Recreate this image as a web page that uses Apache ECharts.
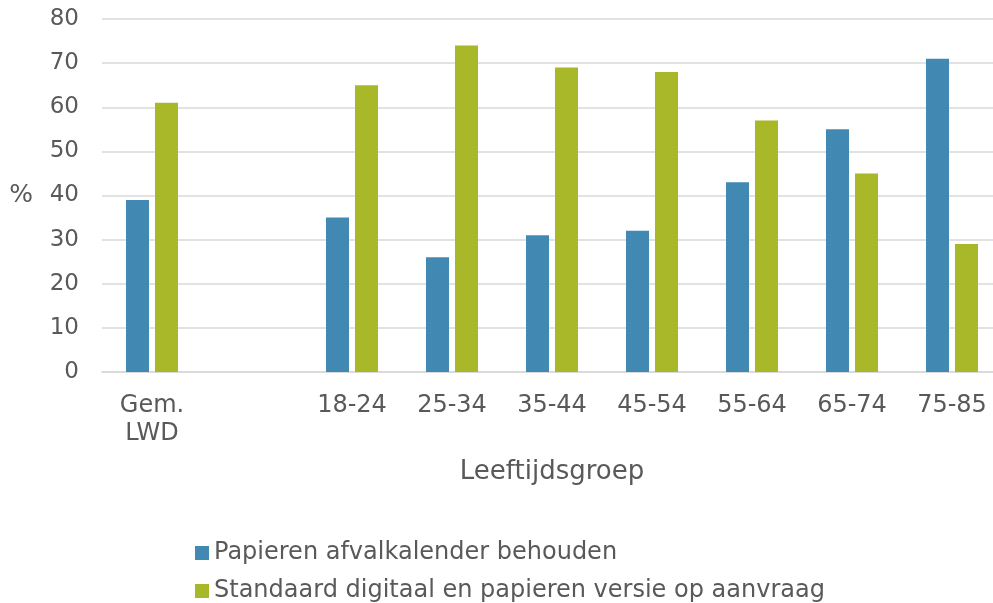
<!DOCTYPE html>
<html>
<head>
<meta charset="utf-8">
<script src="https://cdn.jsdelivr.net/npm/echarts@6/dist/echarts.min.js"></script>
<style>html,body{margin:0;padding:0;background:#fff;}#c{width:993px;height:603px;}</style>
</head>
<body>
<div id="c"></div>
<script>
var categories = ['Gem.\nLWD', '', '18-24', '25-34', '35-44', '45-54', '55-64', '65-74', '75-85'];
var seriesNames = ['Papieren afvalkalender behouden', 'Standaard digitaal en papieren versie op aanvraag'];
var papier = [39, null, 35, 26, 31, 32, 43, 55, 71];
var digitaal = [61, null, 65, 74, 69, 68, 57, 45, 29];
var yTicks = [0, 10, 20, 30, 40, 50, 60, 70, 80];
var xAxisTitle = 'Leeftijdsgroep';
var yAxisTitle = '%';

var textColor = '#595959';
var font = 'DejaVu Sans';
var legendBase = {
  orient: 'horizontal', left: 190,
  itemWidth: 14, itemHeight: 14, icon: 'rect',
  textStyle: {fontFamily: font, fontSize: 24, color: textColor}
};
var chart = echarts.init(document.getElementById('c'), null, {renderer: 'canvas'});
chart.setOption({
  animation: false,
  color: ['#4189B3', '#A8B828'],
  textStyle: {fontFamily: font, color: textColor},
  grid: {left: 102, top: 19, width: 900, height: 353, containLabel: false, outerBoundsMode: 'none'},
  legend: [
    Object.assign({}, legendBase, {top: 536, data: [seriesNames[0]]}),
    Object.assign({}, legendBase, {top: 574, data: [seriesNames[1]]})
  ],
  xAxis: {
    type: 'category', data: categories,
    name: xAxisTitle, nameLocation: 'middle', nameGap: 87,
    nameTextStyle: {fontFamily: font, fontSize: 26, color: textColor},
    axisLine: {show: true, lineStyle: {color: '#d9d9d9', width: 1.5}},
    axisTick: {show: false},
    axisLabel: {fontFamily: font, fontSize: 24, color: textColor, margin: 20, lineHeight: 28, interval: 0}
  },
  yAxis: {
    type: 'value', min: yTicks[0], max: yTicks[yTicks.length - 1], interval: 10,
    name: yAxisTitle, nameLocation: 'middle', nameGap: 69, nameRotate: 0,
    nameTextStyle: {fontFamily: font, fontSize: 25, color: textColor, align: 'right', padding: [6, 0, 0, 0]},
    axisLine: {show: false}, axisTick: {show: false},
    splitLine: {lineStyle: {color: '#d9d9d9', width: 1.5}},
    axisLabel: {fontFamily: font, fontSize: 23, color: textColor, margin: 23}
  },
  series: [
    {name: seriesNames[0], type: 'bar', data: papier, barWidth: 23, barGap: '26%'},
    {name: seriesNames[1], type: 'bar', data: digitaal, barWidth: 23, barGap: '26%'}
  ]
});
</script>
</body>
</html>
